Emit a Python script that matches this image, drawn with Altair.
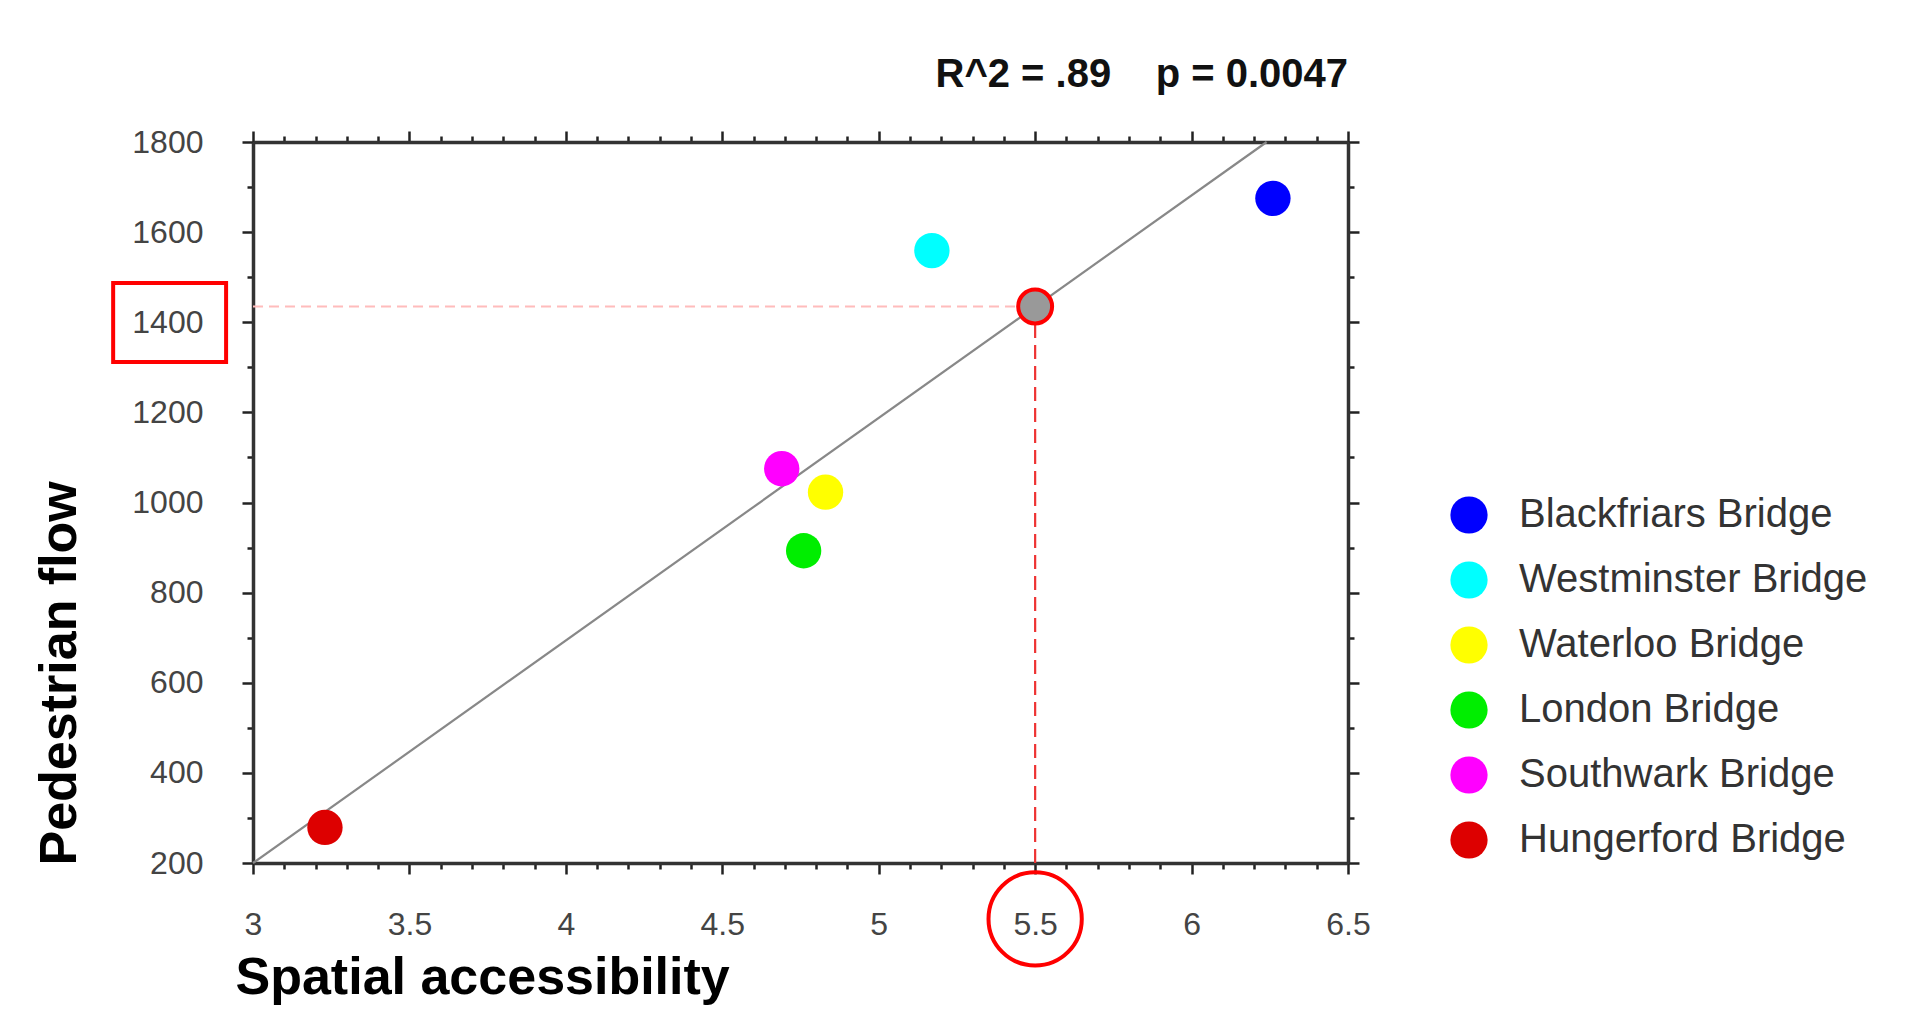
import altair as alt
import pandas as pd

# ---- data ----
bridges = ["Blackfriars Bridge", "Westminster Bridge", "Waterloo Bridge",
           "London Bridge", "Southwark Bridge", "Hungerford Bridge"]
access = [6.26, 5.17, 4.83, 4.76, 4.69, 3.23]
flow = [1675, 1559, 1023, 893, 1075, 279]
colors = ["#0000ff", "#00ffff", "#ffff00", "#00ee00", "#ff00ff", "#dd0000"]

fit_x = [3.0, 6.24]
fit_y = [200, 1800]

highlight_x = [5.5]
highlight_y = [1435]

x_ticks = [3.0, 3.1, 3.2, 3.3, 3.4, 3.5, 3.6, 3.7, 3.8, 3.9, 4.0, 4.1, 4.2, 4.3,
           4.4, 4.5, 4.6, 4.7, 4.8, 4.9, 5.0, 5.1, 5.2, 5.3, 5.4, 5.5, 5.6, 5.7,
           5.8, 5.9, 6.0, 6.1, 6.2, 6.3, 6.4, 6.5]
y_ticks = [200, 300, 400, 500, 600, 700, 800, 900, 1000, 1100, 1200, 1300,
           1400, 1500, 1600, 1700, 1800]

stats_text = ["R^2 = .89\u00a0\u00a0\u00a0\u00a0p = 0.0047"]
stats_pos = [6.5, 1949]
label_box_x = [2.553, 2.914]
label_box_y = [1312, 1487]
x_label_circle = [5.5, 76]

# ---- tables ----
pts = pd.DataFrame({"bridge": bridges, "access": access, "flow": flow})
fit = pd.DataFrame({"access": fit_x, "flow": fit_y})
hl = pd.DataFrame({"access": highlight_x, "flow": highlight_y})
hline = pd.DataFrame({"x": [3.0], "x2": highlight_x, "y": highlight_y})
vline = pd.DataFrame({"x": highlight_x, "y": [200], "y2": highlight_y})
txt = pd.DataFrame({"x": [stats_pos[0]], "y": [stats_pos[1]], "t": stats_text})
box = pd.DataFrame({"x": [label_box_x[0]], "x2": [label_box_x[1]],
                    "y": [label_box_y[0]], "y2": [label_box_y[1]]})
circ = pd.DataFrame({"x": [x_label_circle[0]], "y": [x_label_circle[1]]})

xs = alt.Scale(domain=[3, 6.5], nice=False, zero=False)
ys = alt.Scale(domain=[200, 1800], nice=False, zero=False)

x_minor = "abs(datum.value*2 - round(datum.value*2)) > 0.01"
y_minor = "datum.value % 200 != 0"

FONT = "Liberation Sans"

common = dict(grid=False, domainColor="#333333", domainWidth=3.5,
              tickColor="#222222", tickWidth=2.5, labelOverlap=False,
              labelFont=FONT, labelFontSize=32, labelColor="#444444")

x_bottom = alt.Axis(orient="bottom", values=x_ticks,
                    tickSize={"condition": {"test": x_minor, "value": 6}, "value": 11},
                    labelExpr=f"{x_minor} ? '' : format(datum.value, '~g')",
                    labelPadding=35, labelFlush=False,
                    title="Spatial accessibility", titleFont=FONT,
                    titleFontSize=52, titleFontWeight="bold", titleColor="#000000",
                    titleX=-18, titleY=130, titleAlign="left",
                    titleBaseline="alphabetic", **common)
y_left = alt.Axis(orient="left", values=y_ticks,
                  tickSize={"condition": {"test": y_minor, "value": 6}, "value": 11},
                  labelExpr=f"{y_minor} ? '' : format(datum.value, 'd')",
                  labelPadding=39, labelFlush=False,
                  title="Pedestrian flow", titleFont=FONT,
                  titleFontSize=52, titleFontWeight="bold", titleColor="#000000",
                  titleX=-194, titleY=723, titleAngle=-90, titleAlign="left",
                  titleBaseline="middle", **common)
x_top = alt.Axis(orient="top", values=x_ticks, labels=False, title=None,
                 tickSize={"condition": {"test": x_minor, "value": 6}, "value": 11},
                 **common)
y_right = alt.Axis(orient="right", values=y_ticks, labels=False, title=None,
                   tickSize={"condition": {"test": y_minor, "value": 6}, "value": 11},
                   **common)

fit_layer = alt.Chart(fit).mark_line(color="#888888", strokeWidth=2.2).encode(
    x=alt.X("access:Q", scale=xs, axis=x_top),
    y=alt.Y("flow:Q", scale=ys, axis=y_right),
)

hline_layer = alt.Chart(hline).mark_rule(color="#ffbcbc", strokeWidth=2,
                                         strokeDash=[10, 6]).encode(
    x=alt.X("x:Q", scale=xs, axis=None), x2="x2:Q",
    y=alt.Y("y:Q", scale=ys, axis=None),
)
vline_layer = alt.Chart(vline).mark_rule(color="#ee3333", strokeWidth=2.2,
                                         strokeDash=[14, 7]).encode(
    x=alt.X("x:Q", scale=xs, axis=None),
    y=alt.Y("y:Q", scale=ys, axis=None), y2="y2:Q",
)

pts_layer = alt.Chart(pts).mark_circle(size=1250, opacity=1).encode(
    x=alt.X("access:Q", scale=xs, axis=x_bottom),
    y=alt.Y("flow:Q", scale=ys, axis=y_left),
    color=alt.Color("bridge:N", scale=alt.Scale(domain=bridges, range=colors),
                    legend=alt.Legend(title=None, orient="none", legendX=1196,
                                      legendY=353, symbolType="circle",
                                      symbolSize=1385, symbolStrokeWidth=0,
                                      symbolOpacity=1, labelFont=FONT,
                                      labelFontSize=40, labelColor="#333333",
                                      labelOffset=30, rowPadding=25,
                                      padding=0, labelLimit=600)),
)

hl_layer = alt.Chart(hl).mark_point(shape="circle", size=1150, filled=True,
                                    fill="#999999", stroke="#ff0000",
                                    strokeWidth=4, opacity=1).encode(
    x=alt.X("access:Q", scale=xs, axis=None),
    y=alt.Y("flow:Q", scale=ys, axis=None),
)

txt_layer = alt.Chart(txt).mark_text(align="right", baseline="middle",
                                     font=FONT, fontSize=40, fontWeight="bold",
                                     color="#111111").encode(
    x=alt.X("x:Q", scale=xs, axis=None),
    y=alt.Y("y:Q", scale=ys, axis=None),
    text="t:N",
)

box_layer = alt.Chart(box).mark_rect(filled=False, stroke="#ff0000",
                                     strokeWidth=4).encode(
    x=alt.X("x:Q", scale=xs, axis=None), x2="x2:Q",
    y=alt.Y("y:Q", scale=ys, axis=None), y2="y2:Q",
)

circ_layer = alt.Chart(circ).mark_point(shape="circle", size=8700, filled=False,
                                        stroke="#ff0000", strokeWidth=4,
                                        opacity=1).encode(
    x=alt.X("x:Q", scale=xs, axis=None),
    y=alt.Y("y:Q", scale=ys, axis=None),
)

chart = alt.layer(
    fit_layer, hline_layer, vline_layer, pts_layer, hl_layer,
    txt_layer, box_layer, circ_layer,
).resolve_axis(x="independent", y="independent").properties(
    width=1095, height=721,
    autosize=alt.AutoSizeParams(type="none"),
    padding={"left": 245, "top": 134, "right": 540, "bottom": 142},
).configure_view(strokeWidth=0).configure(background="white")

chart.save("out.html", embed_options={"renderer": "svg", "actions": False})
